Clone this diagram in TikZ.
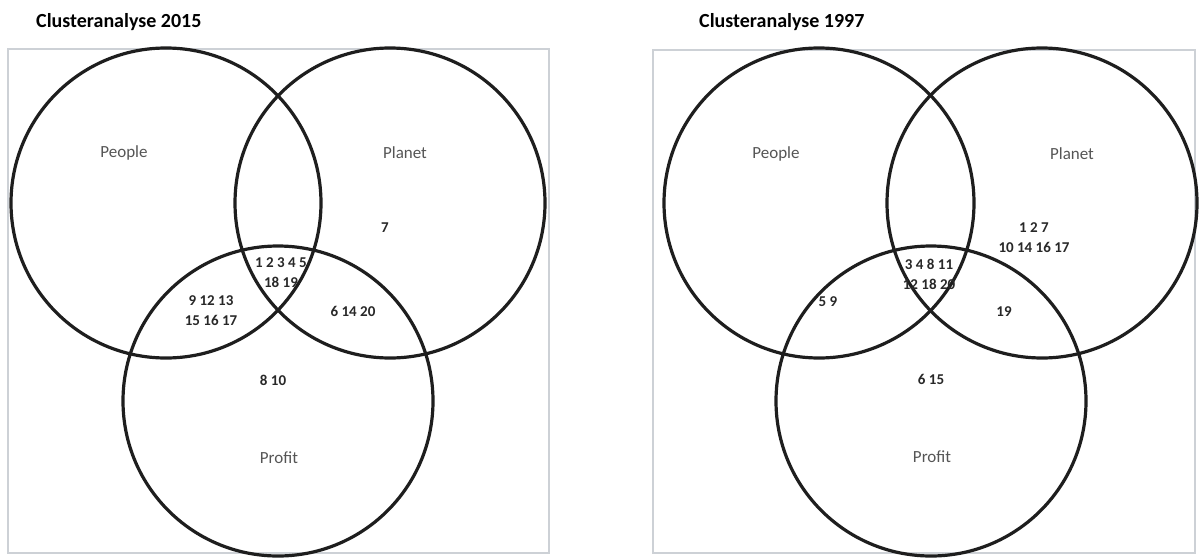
\documentclass[tikz,border=0pt]{standalone}
\usepackage{fontspec}
\setmainfont{Carlito}
\usetikzlibrary{
	positioning
}
\definecolor{FrameGray}{RGB}{205,209,214}
\definecolor{RingBlack}{RGB}{30,30,30}
\definecolor{LabelGray}{RGB}{85,85,85}
\definecolor{NumDark}{RGB}{40,40,40}

\begin{document}
\begin{tikzpicture}[
				x=1pt,y=-1pt,
				every node/.style={
					inner sep=0pt
				},
				ring/.style={
					circle,
					draw=RingBlack,
					line width=3.2pt,
					minimum size=310pt
				},
				frame/.style={
					draw=FrameGray,
					line width=1.6pt
				},
				title/.style={
					anchor=west,
					font=\fontsize{20}{23}\selectfont\bfseries
				},
				setname/.style={
					text=LabelGray,
					font=\fontsize{17}{20}\selectfont
				},
				members/.style={
					text=NumDark,
					align=center,
					font=\fontsize{15}{20}\selectfont\bfseries
				}
				]
				
				\useasboundingbox (0,0) rectangle (1201,557);
				
				% panel 2015
				\node[title] (T15) at (36,22) {Clusteranalyse 2015};
				\draw[frame] (8,49) rectangle (549,553);
				
				\node[ring] (Pe15) at (166,203) {};
				\node[ring] (Pl15) at (390,203) {};
				\node[ring] (Pr15) at (278,401) {};
				
				\node[setname] (Lpe15) at (124,153) {People};
				\node[setname] (Lpl15) at (405,153) {Planet};
				\node[setname] (Lpr15) at (279,458) {Profit};
				
				\node[members] (A15) at (385,228) {7};
				\node[members] (B15) at (281,273) {1 2 3 4 5\\18 19};
				\node[members] (C15) at (211,311) {9 12 13\\15 16 17};
				\node[members] (D15) at (353,311) {6 14 20};
				\node[members] (E15) at (273,380) {8 10};
				
				% panel 1997
				\node[title] (T97) at (699,22) {Clusteranalyse 1997};
				\draw[frame] (653,50) rectangle (1195,553);
				
				\node[ring] (Pe97) at (819,203) {};
				\node[ring] (Pl97) at (1042,203) {};
				\node[ring] (Pr97) at (931,401) {};
				
				\node[setname] (Lpe97) at (776,154) {People};
				\node[setname] (Lpl97) at (1072,154) {Planet};
				\node[setname] (Lpr97) at (932,457) {Profit};
				
				\node[members] (A97) at (1034,238) {1 2 7\\10 14 16 17};
				\node[members] (B97) at (929,274) {3 4 8 11\\12 18 20};
				\node[members] (C97) at (828,302) {5 9};
				\node[members] (D97) at (1004,312) {19};
				\node[members] (E97) at (931,379) {6 15};
				
			\end{tikzpicture}
\end{document}
